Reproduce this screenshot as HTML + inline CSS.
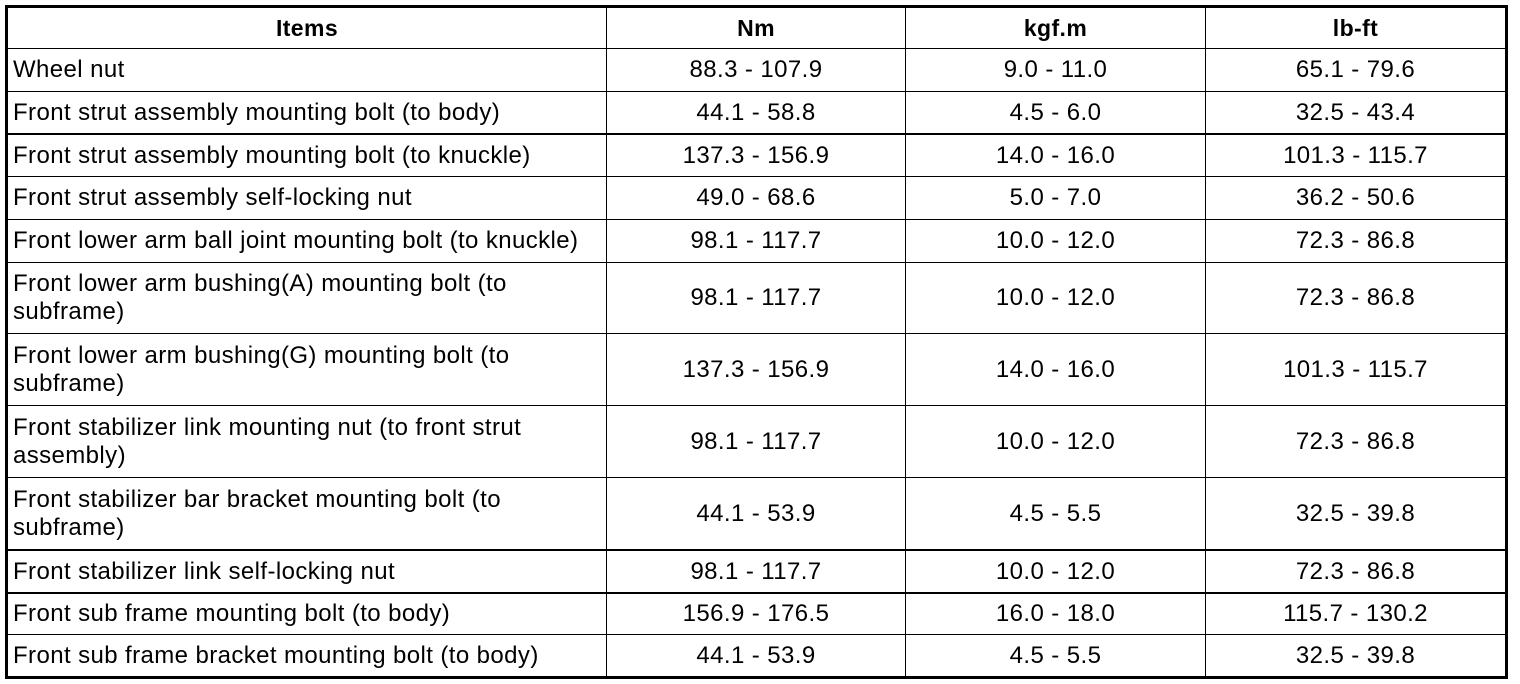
<!DOCTYPE html>
<html><head><style>
body{margin:0;width:1520px;height:684px;background:#fff;position:relative;font-family:"Liberation Sans",Arial,sans-serif;color:#000;overflow:hidden}
.box{position:absolute;left:5px;top:5px;width:1497px;height:668px;border:3px solid #000}
.h{position:absolute;left:7px;width:1499px;height:1px;background:#000}
.v{position:absolute;top:7px;height:670px;width:1px;background:#000}
.c{position:absolute;font-size:24px;letter-spacing:0.4px;line-height:28px;display:flex;align-items:center}
.l{left:13px;width:590px}
.n{justify-content:center;text-align:center}
.b{font-weight:bold;font-size:23px}
</style></head><body>
<div class="box"></div>
<div class="v" style="left:606px"></div>
<div class="v" style="left:905px"></div>
<div class="v" style="left:1205px"></div>
<div class="h" style="top:48px"></div>
<div class="h" style="top:91px"></div>
<div class="h" style="top:133px;height:2px"></div>
<div class="h" style="top:176px"></div>
<div class="h" style="top:219px"></div>
<div class="h" style="top:262px"></div>
<div class="h" style="top:333px"></div>
<div class="h" style="top:405px"></div>
<div class="h" style="top:477px"></div>
<div class="h" style="top:549px;height:2px"></div>
<div class="h" style="top:592px;height:2px"></div>
<div class="h" style="top:634px"></div>
<div id="t"></div>
<script>
var rows=[[8,48,"Items","Nm","kgf.m","lb-ft",1],
[49,91,"Wheel nut","88.3 - 107.9","9.0 - 11.0","65.1 - 79.6"],
[92,133,"Front strut assembly mounting bolt (to body)","44.1 - 58.8","4.5 - 6.0","32.5 - 43.4"],
[135,176,"Front strut assembly mounting bolt (to knuckle)","137.3 - 156.9","14.0 - 16.0","101.3 - 115.7"],
[177,219,"Front strut assembly self-locking nut","49.0 - 68.6","5.0 - 7.0","36.2 - 50.6"],
[220,262,"Front lower arm ball joint mounting bolt (to knuckle)","98.1 - 117.7","10.0 - 12.0","72.3 - 86.8"],
[263,333,"Front lower arm bushing(A) mounting bolt (to<br>subframe)","98.1 - 117.7","10.0 - 12.0","72.3 - 86.8"],
[334,405,"Front lower arm bushing(G) mounting bolt (to<br>subframe)","137.3 - 156.9","14.0 - 16.0","101.3 - 115.7"],
[406,477,"Front stabilizer link mounting nut (to front strut<br>assembly)","98.1 - 117.7","10.0 - 12.0","72.3 - 86.8"],
[478,549,"Front stabilizer bar bracket mounting bolt (to<br>subframe)","44.1 - 53.9","4.5 - 5.5","32.5 - 39.8"],
[551,592,"Front stabilizer link self-locking nut","98.1 - 117.7","10.0 - 12.0","72.3 - 86.8"],
[594,634,"Front sub frame mounting bolt (to body)","156.9 - 176.5","16.0 - 18.0","115.7 - 130.2"],
[635,676,"Front sub frame bracket mounting bolt (to body)","44.1 - 53.9","4.5 - 5.5","32.5 - 39.8"]];
var cols=[[607,298],[906,299],[1206,299]],h="";
rows.forEach(function(r){var t=r[0],ht=r[1]-r[0],b=r[6]?" b":"";
if(r[6])h+='<div class="c n b" style="left:8px;width:598px;top:'+t+'px;height:'+ht+'px">'+r[2]+'</div>';
else h+='<div class="c l" style="top:'+t+'px;height:'+ht+'px">'+r[2]+'</div>';
for(var i=0;i<3;i++)h+='<div class="c n'+b+'" style="left:'+cols[i][0]+'px;width:'+cols[i][1]+'px;top:'+t+'px;height:'+ht+'px">'+r[3+i]+'</div>';});
document.getElementById("t").innerHTML=h;
</script>
</body></html>
